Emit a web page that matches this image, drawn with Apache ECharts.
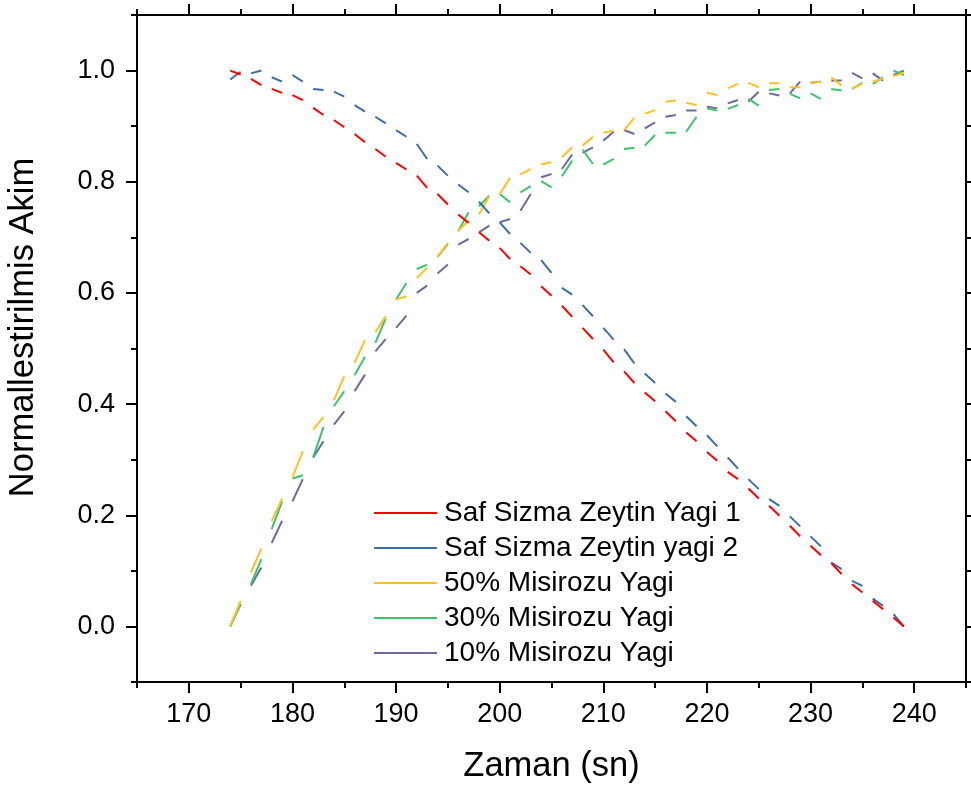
<!DOCTYPE html>
<html>
<head>
<meta charset="utf-8">
<script src="https://cdn.jsdelivr.net/npm/echarts@6.0.0/dist/echarts.min.js"></script>
<style>
html,body{margin:0;padding:0;background:#fff;}
#chart{width:971px;height:791px;}
</style>
</head>
<body>
<div id="chart"></div>
<script>
var times = [174,175,176,177,178,179,180,181,182,183,184,185,186,187,188,189,190,191,192,193,194,195,196,197,198,199,200,201,202,203,204,205,206,207,208,209,210,211,212,213,214,215,216,217,218,219,220,221,222,223,224,225,226,227,228,229,230,231,232,233,234,235,236,237,238,239];

var seriesNames = ['Saf Sizma Zeytin Yagi 1','Saf Sizma Zeytin yagi 2','50% Misirozu Yagi','30% Misirozu Yagi','10% Misirozu Yagi'];

var zeytin1 = [1.000,0.993,0.985,0.974,0.967,0.960,0.956,0.947,0.933,0.920,0.911,0.898,0.886,0.871,0.859,0.845,0.834,0.822,0.811,0.789,0.778,0.759,0.741,0.726,0.709,0.694,0.681,0.661,0.648,0.633,0.612,0.595,0.577,0.557,0.537,0.517,0.498,0.475,0.459,0.438,0.421,0.405,0.387,0.369,0.349,0.333,0.314,0.298,0.278,0.265,0.248,0.230,0.217,0.199,0.181,0.162,0.145,0.128,0.114,0.094,0.076,0.061,0.046,0.031,0.016,0.000];

var zeytin2 = [0.984,0.998,0.995,1.000,0.988,0.980,0.992,0.980,0.967,0.965,0.962,0.953,0.938,0.926,0.917,0.905,0.893,0.881,0.868,0.841,0.829,0.811,0.795,0.781,0.764,0.743,0.727,0.706,0.690,0.672,0.659,0.636,0.609,0.597,0.578,0.558,0.537,0.516,0.499,0.473,0.455,0.438,0.419,0.404,0.378,0.360,0.344,0.324,0.304,0.284,0.265,0.247,0.229,0.217,0.198,0.180,0.162,0.144,0.115,0.103,0.082,0.073,0.050,0.037,0.022,0.000];

var misir50 = [0.000,0.046,0.097,0.140,0.190,0.230,0.268,0.315,0.354,0.377,0.407,0.450,0.474,0.515,0.529,0.558,0.588,0.594,0.627,0.645,0.665,0.690,0.712,0.730,0.741,0.774,0.778,0.807,0.813,0.823,0.831,0.835,0.844,0.862,0.865,0.881,0.888,0.892,0.893,0.915,0.922,0.929,0.944,0.946,0.942,0.938,0.960,0.956,0.968,0.976,0.978,0.970,0.977,0.977,0.970,0.970,0.978,0.980,0.988,0.973,0.968,0.976,0.980,0.986,0.990,0.996];

var misir30 = [0.000,0.040,0.076,0.121,0.175,0.225,0.266,0.272,0.304,0.359,0.396,0.423,0.452,0.485,0.510,0.554,0.588,0.618,0.643,0.651,0.665,0.688,0.711,0.745,0.756,0.775,0.778,0.763,0.781,0.792,0.801,0.790,0.810,0.838,0.858,0.832,0.831,0.841,0.859,0.861,0.865,0.884,0.888,0.888,0.890,0.917,0.932,0.928,0.931,0.938,0.949,0.937,0.965,0.967,0.958,0.950,0.959,0.949,0.967,0.964,0.967,0.978,0.976,0.988,1.000,0.992];

var misir10 = [0.000,0.040,0.073,0.106,0.150,0.190,0.225,0.265,0.304,0.333,0.363,0.387,0.423,0.453,0.495,0.517,0.537,0.559,0.600,0.613,0.635,0.651,0.687,0.697,0.709,0.721,0.727,0.733,0.748,0.778,0.808,0.814,0.823,0.849,0.852,0.862,0.874,0.890,0.893,0.886,0.896,0.907,0.917,0.920,0.928,0.928,0.935,0.932,0.941,0.947,0.944,0.962,0.959,0.955,0.959,0.980,0.978,0.980,0.982,0.982,0.996,0.986,0.995,0.982,0.992,1.000];

var xMajorTicks = [170,180,190,200,210,220,230,240];
var xMinorTicks = [165,175,185,195,205,215,225,235,245];
var yMajorTicks = [0.0,0.2,0.4,0.6,0.8,1.0];
var yMinorTicks = [-0.1,0.1,0.3,0.5,0.7,0.9,1.1];

var xTitle = 'Zaman (sn)';
var yTitle = 'Normallestirilmis Akim';

var allValues = [zeytin1, zeytin2, misir50, misir30, misir10];
var colors = ['#FF0000','#3B6EA8','#FFC022','#3CC46C','#6A6A9E'];

var FONT = 'Arial, "Liberation Sans", sans-serif';

// Origin draws the dashed line as alternate solid segments between data points
function dashedPairs(vals){
  var out = [];
  for (var i = 0; i + 1 < times.length; i += 2) {
    if (out.length) out.push(['-', '-']);
    out.push([times[i], vals[i]]);
    out.push([times[i+1], vals[i+1]]);
  }
  return out;
}

var tickStyle = {color:'#000', width:2};

function xAxisDef(pos, ticks, len, main){
  var a = {
    type:'value', position:pos, min:165, max:245,
    axisLine:{show:main, onZero:false, lineStyle:{color:'#000', width:2}},
    axisTick:{show:true, inside:false, length:len, customValues:ticks, lineStyle:tickStyle},
    minorTick:{show:false},
    splitLine:{show:false},
    axisLabel:{show:false}
  };
  if (main && pos === 'bottom') {
    a.axisLabel = {show:true, customValues:xMajorTicks, fontSize:27, color:'#000', margin:19, fontFamily:FONT};
    a.name = xTitle; a.nameLocation = 'middle'; a.nameGap = 67;
    a.nameTextStyle = {fontSize:34.5, color:'#000', fontFamily:FONT};
  }
  return a;
}
function yAxisDef(pos, ticks, len, main){
  var a = {
    type:'value', position:pos, min:-0.1, max:1.1,
    axisLine:{show:main, onZero:false, lineStyle:{color:'#000', width:2}},
    axisTick:{show:true, inside:false, length:len, customValues:ticks, lineStyle:tickStyle},
    minorTick:{show:false},
    splitLine:{show:false},
    axisLabel:{show:false}
  };
  if (main && pos === 'left') {
    a.axisLabel = {show:true, customValues:yMajorTicks, fontSize:27, color:'#000', margin:22, fontFamily:FONT,
      formatter:function(v){ return (Math.abs(v) < 1e-9 ? 0 : v).toFixed(1); }};
    a.name = yTitle; a.nameLocation = 'middle'; a.nameGap = 96;
    a.nameTextStyle = {fontSize:34.5, color:'#000', fontFamily:FONT, padding:[0,0,0,42]};
  }
  return a;
}

var chart = echarts.init(document.getElementById('chart'), null, {renderer:'canvas'});
chart.setOption({
  animation:false,
  backgroundColor:'#fff',
  grid:{left:137, right:5, top:15, bottom:109, containLabel:false, outerBoundsMode:'none'},
  xAxis:[
    xAxisDef('bottom', xMajorTicks, 11, true),
    xAxisDef('bottom', xMinorTicks, 6, false),
    xAxisDef('top', xMajorTicks, 11, true),
    xAxisDef('top', xMinorTicks, 6, false)
  ],
  yAxis:[
    yAxisDef('left', yMajorTicks, 11, true),
    yAxisDef('left', yMinorTicks, 6, false),
    yAxisDef('right', yMajorTicks, 11, true),
    yAxisDef('right', yMinorTicks, 6, false)
  ],
  legend:{
    data:seriesNames, orient:'vertical', left:374, top:498, padding:0,
    icon:'rect', itemWidth:63, itemHeight:2, itemGap:5,
    textStyle:{fontSize:28, lineHeight:30, color:'#000', fontFamily:FONT, padding:[0,0,0,2]}
  },
  series: seriesNames.map(function(n, k){
    return {
      name:n, type:'line', xAxisIndex:0, yAxisIndex:0,
      data:dashedPairs(allValues[k]),
      connectNulls:false,
      showSymbol:false, symbol:'none',
      color:colors[k],
      itemStyle:{color:colors[k]},
      lineStyle:{color:colors[k], width:2, type:'solid'},
      z: 10 - k
    };
  })
});
</script>
</body>
</html>
